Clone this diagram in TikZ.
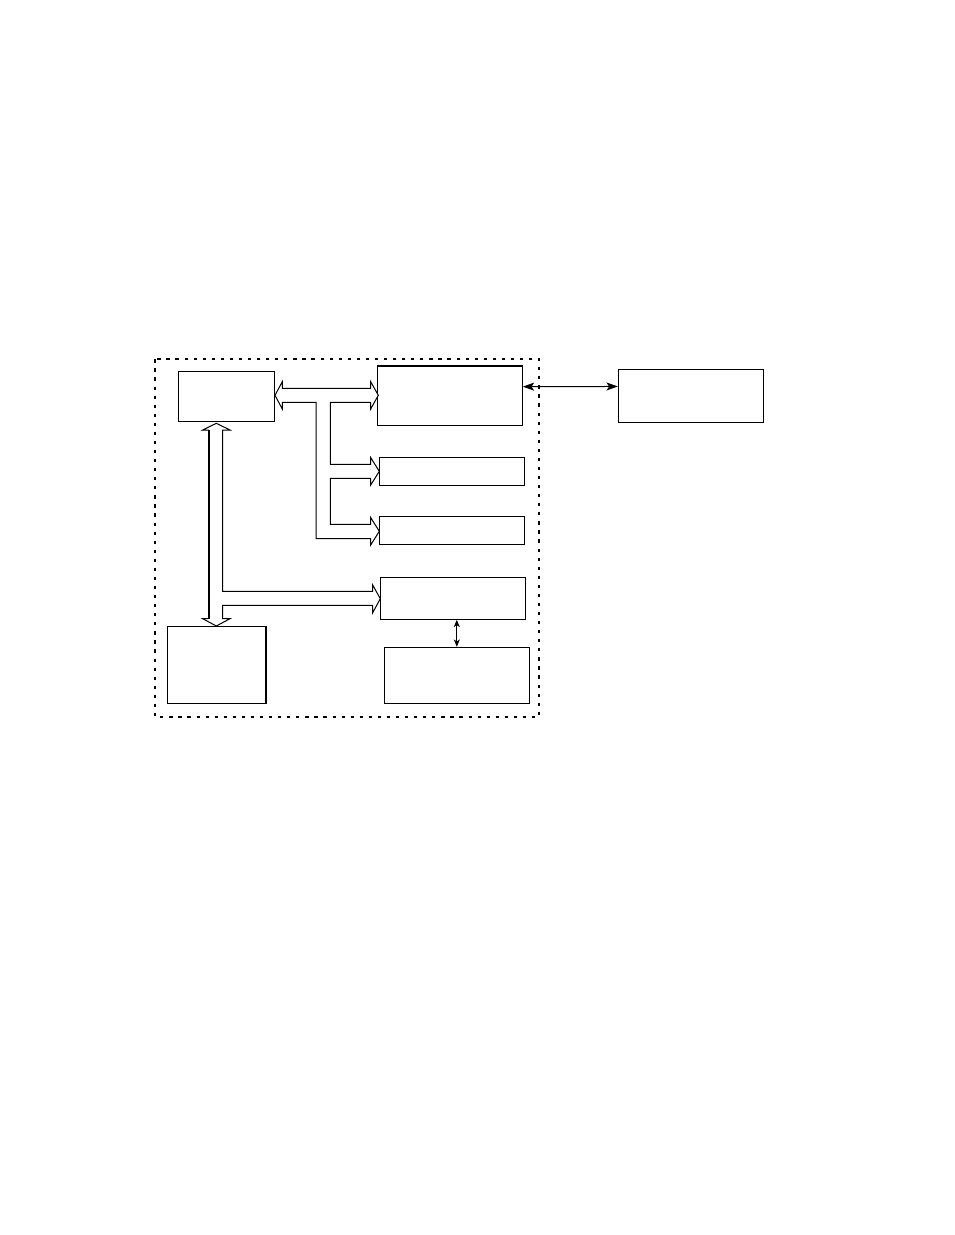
\documentclass[tikz,border=0pt]{standalone}
\usepackage{tikz}
\usetikzlibrary{arrows.meta}
\tikzset{every picture/.style={line width=0.75pt}}
\tikzset{
  box/.style={draw, inner sep=0pt},
  bus/.style={draw, fill=white, line join=miter},
  link/.style={<->, >={Stealth[length=8.5pt,width=6pt,inset=2pt]}},
  shortlink/.style={<->, >={Stealth[length=5.5pt,width=4.5pt,inset=1.5pt]}},
  frame/.style={line width=1.3pt, dash pattern=on 2.4pt off 4.4pt}
}

\begin{document}
\begin{tikzpicture}[x=0.75pt,y=0.75pt,yscale=-1,xscale=1]
\useasboundingbox (0,0) rectangle (954,1235);

%Shape: Dashed Frame
\draw [frame] (155,359.3) rectangle (539.3,716.7);

%Shape: Rectangle
\node [box, minimum width=72pt, minimum height=37.3pt] (ctrl) at (226.3,396.2) {};
%Shape: Rectangle
\node [box, minimum width=108.75pt, minimum height=44pt] (iface) at (449.8,396) {};
\draw [line width=1.3pt] (iface.north west) -- (iface.north east);
%Shape: Rectangle
\node [box, minimum width=109pt, minimum height=21pt] (unitc) at (452,471.3) {};
%Shape: Rectangle
\node [box, minimum width=109pt, minimum height=21pt] (unitd) at (452,530) {};
%Shape: Rectangle
\node [box, minimum width=109pt, minimum height=31.5pt] (unite) at (453,598.3) {};
%Shape: Rectangle
\node [box, minimum width=108.75pt, minimum height=42pt] (unitf) at (456.8,675.3) {};
%Shape: Rectangle
\node [box, line width=1.1pt, minimum width=74pt, minimum height=57.5pt] (mem) at (216.7,665) {};
%Shape: Rectangle
\node [box, minimum width=108.75pt, minimum height=39.75pt] (host) at (690.8,395.8) {};

%Block Arrow: bus from ctrl to iface, unitc, unitd
\draw [bus] (282.3,388.3) -- (370.7,388.3) -- (370.7,381.7) -- (378.3,395.3) -- (370.7,409) -- (370.7,402.3)
  -- (330.3,402.3) -- (330.3,464.3) -- (370.7,464.3) -- (370.7,457.6) -- (379.3,471.3) -- (370.7,485) -- (370.7,478.3)
  -- (330.3,478.3) -- (330.3,524.3) -- (370.7,524.3) -- (370.7,517.6) -- (379.3,531.3) -- (370.7,545) -- (370.7,538.7)
  -- (316,538.7) -- (316,402.3) -- (282.3,402.3) -- (282.3,409) -- (275,395.3) -- (282.3,381.7) -- cycle ;

%Block Arrow: bus from ctrl to mem and unite
\draw [bus] (216.3,423.3) -- (230,430) -- (222.7,430) -- (222.7,591.3) -- (372.7,591.3) -- (372.7,585) -- (380.3,598.7)
  -- (372.7,612.7) -- (372.7,605.3) -- (222.7,605.3) -- (222.7,618.7) -- (230,618.7) -- (216.3,626) -- (202.7,618.7)
  -- (208.7,618.7) -- (208.7,430) -- (202.7,430) -- cycle ;
\draw [line width=1.5pt] (208.7,430) -- (208.7,618.7) ;

%Straight Lines
\draw [link] ([yshift=-7pt]iface.east) -- ([yshift=-7pt]host.west) ;
%Straight Lines
\draw [shortlink] (unitf.north |- unite.south) -- (unitf.north) ;

\end{tikzpicture}
\end{document}
